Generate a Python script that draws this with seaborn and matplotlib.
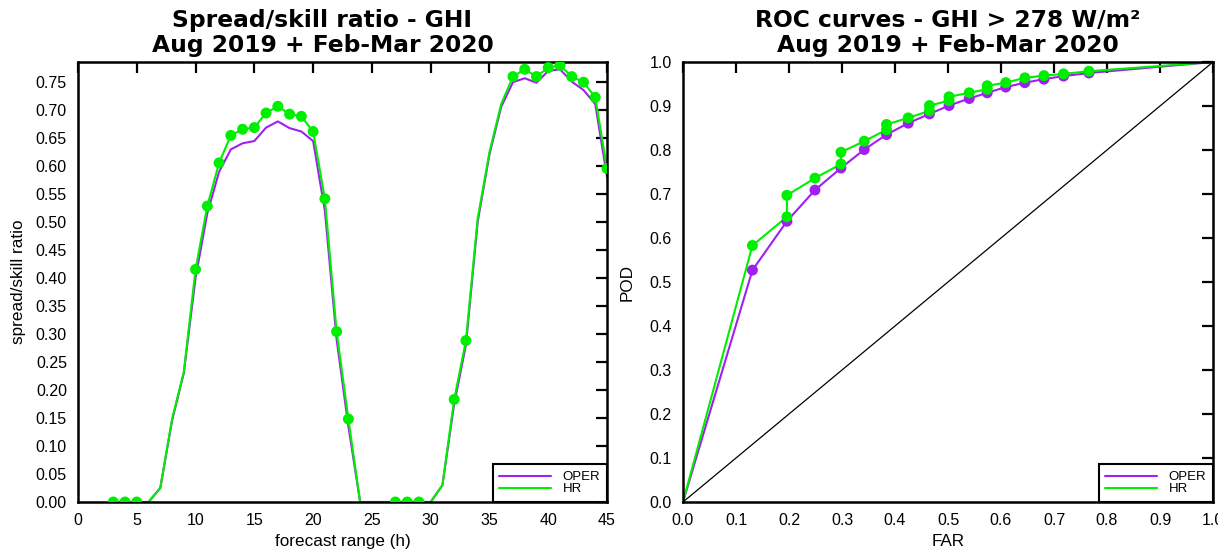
import matplotlib
matplotlib.use("Agg")
import matplotlib.pyplot as plt
import seaborn as sns
import numpy as np
import pandas as pd

# ---------------- data ----------------
hours = list(range(3, 46))
oper_ssr = [0, 0, 0, 0, 0.025, 0.145, 0.23, 0.40, 0.515, 0.589, 0.629, 0.640, 0.644,
            0.668, 0.679, 0.667, 0.661, 0.644, 0.52, 0.29, 0.135, 0, 0, 0, 0, 0, 0,
            0, 0.03, 0.175, 0.28, 0.50, 0.62, 0.705, 0.749, 0.756, 0.748, 0.769,
            0.772, 0.750, 0.735, 0.710, 0.580]
hr_ssr = [0, 0, 0, 0, 0.025, 0.148, 0.232, 0.415, 0.528, 0.605, 0.654, 0.665, 0.668,
          0.694, 0.706, 0.692, 0.688, 0.661, 0.541, 0.304, 0.148, 0, 0, 0, 0, 0, 0,
          0, 0.03, 0.183, 0.288, 0.506, 0.624, 0.710, 0.759, 0.772, 0.759, 0.775,
          0.779, 0.759, 0.749, 0.722, 0.595]
hr_marked_hours = [3, 4, 5, 10, 11, 12, 13, 14, 15, 16, 17, 18, 19, 20, 21, 22, 23,
                   27, 28, 29, 32, 33, 37, 38, 39, 40, 41, 42, 43, 44, 45]

oper_far = [0, 0.131, 0.196, 0.249, 0.298, 0.342, 0.384, 0.425, 0.465, 0.502, 0.540,
            0.574, 0.609, 0.645, 0.681, 0.718, 0.766, 1.0]
oper_pod = [0, 0.527, 0.638, 0.709, 0.759, 0.801, 0.835, 0.861, 0.882, 0.901, 0.917,
            0.930, 0.943, 0.953, 0.961, 0.968, 0.975, 1.0]
hr_far = [0, 0.131, 0.196, 0.196, 0.249, 0.298, 0.298, 0.342, 0.384, 0.384, 0.425,
          0.465, 0.465, 0.502, 0.502, 0.540, 0.574, 0.574, 0.609, 0.645, 0.681,
          0.718, 0.766, 1.0]
hr_pod = [0, 0.583, 0.648, 0.697, 0.736, 0.768, 0.795, 0.820, 0.846, 0.858, 0.873,
          0.889, 0.901, 0.912, 0.921, 0.930, 0.938, 0.946, 0.953, 0.964, 0.969,
          0.973, 0.979, 1.0]

series_names = ["OPER", "HR"]
left_title = "Spread/skill ratio - GHI\nAug 2019 + Feb-Mar 2020"
right_title = "ROC curves - GHI > 278 W/m²\nAug 2019 + Feb-Mar 2020"

PURPLE = "#a020f0"
GREEN = "#00ee00"

sns.set_style("white")
plt.rcParams["font.family"] = ["Liberation Sans", "DejaVu Sans"]
for k in ("text.color", "axes.labelcolor", "xtick.color", "ytick.color",
          "axes.edgecolor"):
    plt.rcParams[k] = "black"

fig = plt.figure(figsize=(12.18, 5.54), dpi=100)
axL = fig.add_axes([78 / 1218, 52 / 554, 529 / 1218, 440 / 554])
axR = fig.add_axes([683 / 1218, 52 / 554, 530 / 1218, 440 / 554])

MS = 62  # marker area (pt^2)

# ---------------- left: spread/skill ----------------
dfL = pd.DataFrame({"h": hours, "OPER": oper_ssr, "HR": hr_ssr})
sns.lineplot(data=dfL, x="h", y="OPER", ax=axL, color=PURPLE, lw=1.5,
             label=series_names[0], estimator=None, sort=False)
sns.lineplot(data=dfL, x="h", y="HR", ax=axL, color=GREEN, lw=1.5,
             label=series_names[1], estimator=None, sort=False)
dm = dfL[dfL["h"].isin(hr_marked_hours)]
sns.scatterplot(data=dm, x="h", y="HR", ax=axL, color=GREEN, s=MS,
                edgecolor="none", legend=False, zorder=4)

axL.set_xlim(0, 45)
axL.set_ylim(0, 0.785)
axL.set_xticks(np.arange(0, 46, 5))
axL.set_yticks(np.arange(0, 0.751, 0.05))
axL.set_yticklabels([f"{v:.2f}" for v in np.arange(0, 0.751, 0.05)])
axL.set_xlabel("forecast range (h)", fontsize=12.3, labelpad=4)
axL.set_ylabel("spread/skill ratio", fontsize=12.3, labelpad=7)

# ---------------- right: ROC ----------------
dfO = pd.DataFrame({"far": oper_far, "pod": oper_pod})
dfH = pd.DataFrame({"far": hr_far, "pod": hr_pod})
axR.plot([0, 1], [0, 1], color="black", lw=0.9, zorder=1)
sns.lineplot(data=dfO, x="far", y="pod", ax=axR, color=PURPLE, lw=1.5,
             label=series_names[0], estimator=None, sort=False)
sns.scatterplot(data=dfO.iloc[1:-1], x="far", y="pod", ax=axR, color=PURPLE, s=MS,
                edgecolor="none", legend=False, zorder=3)
sns.lineplot(data=dfH, x="far", y="pod", ax=axR, color=GREEN, lw=1.5,
             label=series_names[1], estimator=None, sort=False)
sns.scatterplot(data=dfH.iloc[1:-1], x="far", y="pod", ax=axR, color=GREEN, s=MS,
                edgecolor="none", legend=False, zorder=4)

axR.set_xlim(0, 1)
axR.set_ylim(0, 1)
axR.set_xticks(np.arange(0, 1.01, 0.1))
axR.set_xticklabels([f"{v:.1f}" for v in np.arange(0, 1.01, 0.1)])
axR.set_yticks(np.arange(0, 1.01, 0.1))
axR.set_yticklabels([f"{v:.1f}" for v in np.arange(0, 1.01, 0.1)])
axR.set_xlabel("FAR", fontsize=12.3, labelpad=4)
axR.set_ylabel("POD", fontsize=12.3, labelpad=11)

for ax, title, tx in ((axL, left_title, 0.462), (axR, right_title, 0.5)):
    ax.set_title(title, fontsize=16.8, fontweight="bold", pad=7, color="black",
                 family=["DejaVu Sans"], linespacing=1.1, x=tx)
    for sp in ax.spines.values():
        sp.set_visible(True)
        sp.set_color("black")
        sp.set_linewidth(1.8)
    ax.tick_params(direction="in", length=8, width=1.6, top=True, right=True,
                   labelsize=11.5, colors="black")
    ax.tick_params(axis="x", pad=8)
    ax.tick_params(axis="y", pad=8)
    leg = ax.legend(loc="lower right", borderaxespad=0, fancybox=False,
                    edgecolor="black", framealpha=1, fontsize=9.5,
                    handlelength=3.9, handletextpad=0.9, labelspacing=0.0,
                    borderpad=0.5, labelcolor="black")
    leg.get_frame().set_linewidth(1.5)
    ax.grid(False)

fig.savefig("out.png", dpi=100)
